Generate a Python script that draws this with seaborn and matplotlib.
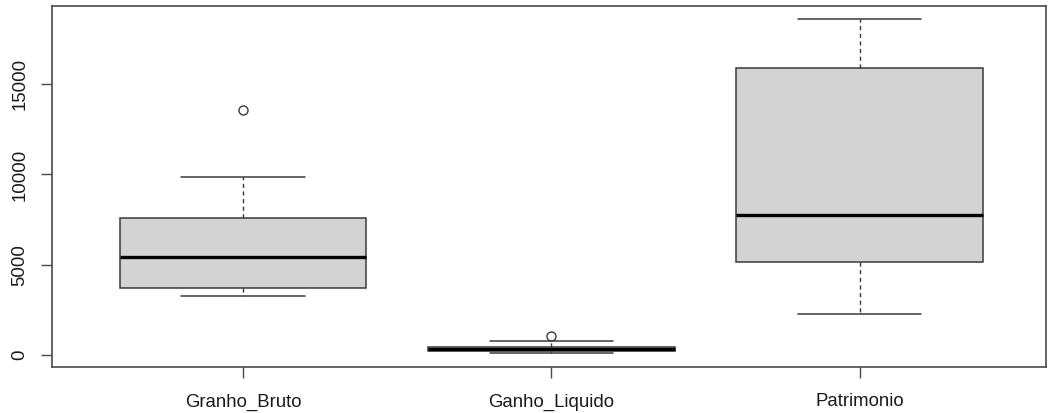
import numpy as np
import pandas as pd
import matplotlib
matplotlib.use("Agg")
import matplotlib.pyplot as plt
import seaborn as sns

# Five-number summaries (lower whisker, Q1, median, Q3, upper whisker) and outliers
categorias = ["Granho_Bruto", "Ganho_Liquido", "Patrimonio"]
bigode_inf = [3270, 120, 2255]
q1 = [3730, 210, 5135]
mediana = [5410, 340, 7756]
q3 = [7606, 460, 15880]
bigode_sup = [9880, 760, 18615]
outliers = [[13570], [1080], []]

# Build observation lists whose quartiles reproduce the summaries above
linhas = []
for i, cat in enumerate(categorias):
    if outliers[i]:
        obs = [bigode_inf[i], q1[i], q1[i], mediana[i], mediana[i],
               q3[i], q3[i], bigode_sup[i]] + outliers[i]
    else:
        obs = [bigode_inf[i], q1[i], mediana[i], q3[i], bigode_sup[i]]
    linhas += [(cat, v) for v in obs]
df = pd.DataFrame(linhas, columns=["variavel", "valor"])

sns.set_style("white")
plt.rcParams["font.family"] = ["Liberation Sans", "DejaVu Sans"]

W, H = 1048, 413
fig = plt.figure(figsize=(W / 100, H / 100), dpi=100)
ax = fig.add_axes([52 / W, (H - 367) / H, (1046 - 52) / W, (367 - 6) / H])

edge = "#3a3a3a"
sns.boxplot(
    data=df, x="variavel", y="valor", order=categorias, ax=ax,
    color="#d3d3d3", saturation=1, width=0.8, linecolor=edge, linewidth=1.1,
    whis=1.5,
    whiskerprops=dict(linestyle=(0, (3.0, 2.5)), color=edge, linewidth=1.0),
    capprops=dict(color=edge, linewidth=1.1),
    medianprops=dict(color="black", linewidth=2.4),
    flierprops=dict(marker="o", markerfacecolor="none", markeredgecolor=edge,
                    markersize=6.5, markeredgewidth=1.0),
)

ax.set_xlim(-0.6197, 2.605)
ax.set_ylim(-665, 19335)
ax.set_yticks([0, 5000, 10000, 15000])
ax.set_yticklabels(["0", "5000", "10000", "15000"], rotation=90, va="center")
ax.set_xlabel("")
ax.set_ylabel("")

for s in ax.spines.values():
    s.set_visible(True)
    s.set_color("#4a4a4a")
    s.set_linewidth(1.2)

ax.tick_params(axis="both", which="major", length=8, width=1.0, color="#4a4a4a",
               labelsize=13.4, labelcolor="#1a1a1a", left=True, bottom=True)
ax.tick_params(axis="x", pad=11)
ax.tick_params(axis="y", pad=9)

fig.savefig("out.png", dpi=100)
